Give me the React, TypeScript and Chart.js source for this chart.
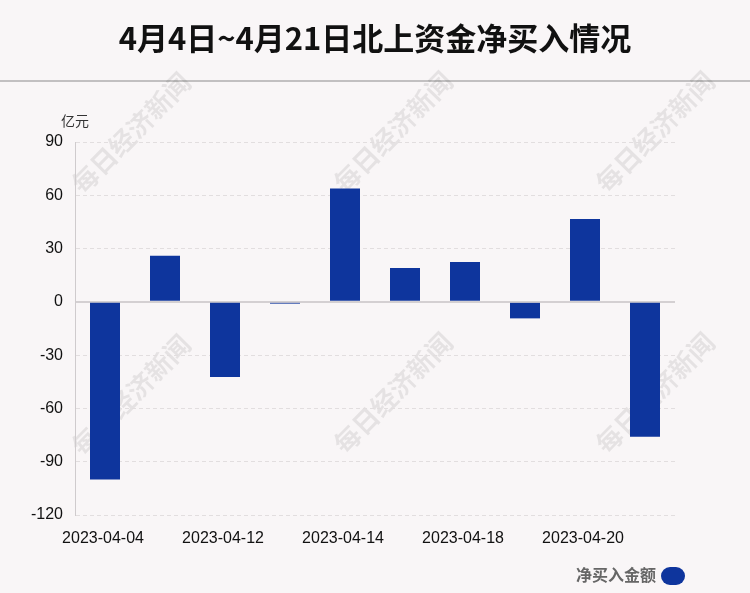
import React, { useEffect, useRef } from "react";
import { Chart, registerables } from "chart.js";

Chart.register(...registerables);

const TITLE = "4月4日~4月21日北上资金净买入情况";
const UNIT = "亿元";
const SERIES_NAME = "净买入金额";
const WATERMARK = "每日经济新闻";
const DATES = [
  "2023-04-04",
  "2023-04-11",
  "2023-04-12",
  "2023-04-13",
  "2023-04-14",
  "2023-04-17",
  "2023-04-18",
  "2023-04-19",
  "2023-04-20",
  "2023-04-21",
];
const NET_BUY = [-100, 26, -42.3, -1, 63.8, 19, 22.5, -9.3, 46.6, -76];
const Y_MIN = -120;
const Y_MAX = 90;
const Y_STEP = 30;

const BG = "#f9f6f7";
const BAR = "#0e359d";

const decorPlugin = {
  id: "decor",
  beforeDraw(chart: any) {
    const { ctx, width } = chart;
    ctx.save();
    ctx.fillStyle = BG;
    ctx.fillRect(0, 0, chart.width, chart.height);
    // title
    ctx.fillStyle = "#111";
    ctx.font = 'bold 31px "Noto Sans CJK SC", sans-serif';
    ctx.textAlign = "center";
    ctx.textBaseline = "middle";
    ctx.fillText(TITLE, width / 2, 38);
    // separator
    ctx.strokeStyle = "#c2c0c1";
    ctx.lineWidth = 2;
    ctx.beginPath();
    ctx.moveTo(0, 81);
    ctx.lineTo(width, 81);
    ctx.stroke();
    // watermarks
    const centers = [
      [131, 133],
      [393, 132],
      [655, 132],
      [131, 395],
      [393, 393],
      [655, 393],
    ];
    ctx.fillStyle = "rgba(0,0,0,0.08)";
    ctx.font = 'bold 26px "Noto Sans CJK SC", sans-serif';
    for (const [cx, cy] of centers) {
      ctx.save();
      ctx.translate(cx, cy);
      ctx.rotate(-Math.PI / 4 - 0.01);
      ctx.fillText(WATERMARK, 0, 0);
      ctx.restore();
    }
    // unit
    ctx.fillStyle = "#333";
    ctx.font = '14px "Noto Sans CJK SC", sans-serif';
    ctx.textAlign = "left";
    ctx.fillText(UNIT, 61, 121);
    // legend
    ctx.fillStyle = "#666";
    ctx.font = 'bold 16px "Noto Sans CJK SC", sans-serif';
    ctx.textAlign = "right";
    ctx.fillText(SERIES_NAME, 656, 575);
    ctx.fillStyle = BAR;
    ctx.beginPath();
    (ctx as any).roundRect(661, 567, 24, 18, 9);
    ctx.fill();
    ctx.restore();
  },
};

export default function App() {
  const ref = useRef<HTMLCanvasElement | null>(null);
  useEffect(() => {
    if (!ref.current) return;
    const chart = new Chart(ref.current, {
      type: "bar",
      data: {
        labels: DATES,
        datasets: [
          {
            label: SERIES_NAME,
            data: NET_BUY,
            backgroundColor: BAR,
            categoryPercentage: 1,
            barPercentage: 0.5,
          },
        ],
      },
      options: {
        animation: false,
        responsive: true,
        maintainAspectRatio: false,
        layout: { padding: { top: 142, right: 75, left: 0, bottom: 0 } },
        plugins: {
          legend: { display: false },
          tooltip: { enabled: false },
          title: { display: false },
        },
        scales: {
          x: {
            grid: { display: false },
            border: { display: false },
            afterFit: (s: any) => {
              s.height = 78;
            },
            ticks: {
              autoSkip: false,
              maxRotation: 0,
              padding: 6,
              labelOffset: -2,
              color: "#111",
              font: { family: '"Liberation Sans", Arial', size: 16 },
              callback: function (_v: any, i: number) {
                return i % 2 === 0 ? DATES[i] : "";
              },
            },
          },
          y: {
            min: Y_MIN,
            max: Y_MAX,
            afterFit: (s: any) => {
              s.width = 75;
            },
            ticks: {
              stepSize: Y_STEP,
              padding: 12,
              color: "#111",
              font: { family: '"Liberation Sans", Arial', size: 16 },
            },
            grid: {
              drawTicks: false,
              color: (c: any) => (c.tick && c.tick.value === 0 ? "#d4d0d2" : "#e2dedf"),
              lineWidth: (c: any) => (c.tick && c.tick.value === 0 ? 2 : 1),
            },
            border: {
              display: true,
              color: "#cfcbcd",
              width: 1,
              dash: (c: any) => (c.tick && c.tick.value === 0 ? [] : [4, 3]),
            },
          },
        },
      },
      plugins: [decorPlugin],
    });
    return () => chart.destroy();
  }, []);
  return (
    <div style={{ position: "fixed", left: 0, top: 0, width: 750, height: 593 }}>
      <canvas ref={ref} />
    </div>
  );
}
